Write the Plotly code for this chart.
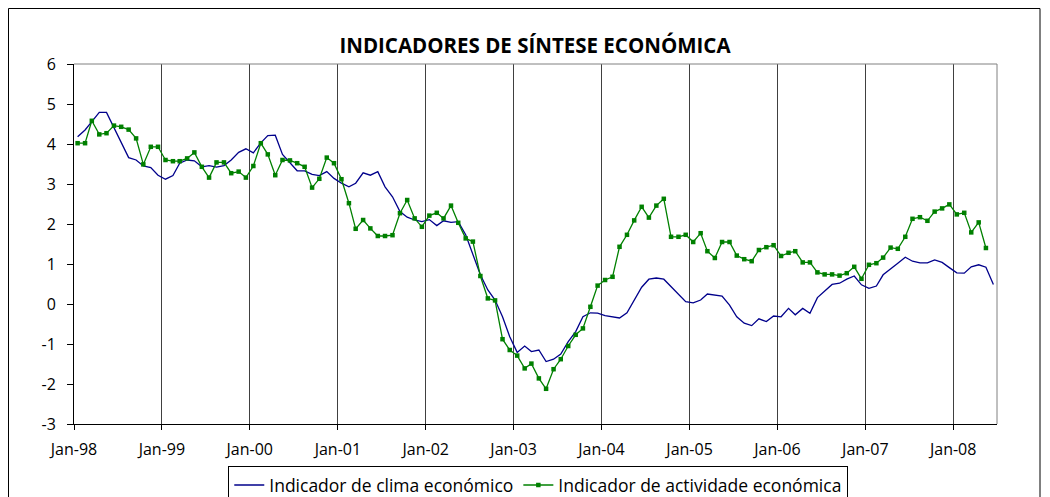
import pandas as pd
import plotly.graph_objects as go

# Monthly observations, Jan-98 onwards
start_month = "1998-01-01"
tick_years = list(range(1998, 2009))
tick_labels = ["Jan-98", "Jan-99", "Jan-00", "Jan-01", "Jan-02", "Jan-03",
               "Jan-04", "Jan-05", "Jan-06", "Jan-07", "Jan-08"]
y_ticks = [-3, -2, -1, 0, 1, 2, 3, 4, 5, 6]
y_tick_labels = ["-3", "-2", "-1", "0", "1", "2", "3", "4", "5", "6"]

clima_1998 = [4.18, 4.35, 4.56, 4.79, 4.79, 4.40, 4.04, 3.66, 3.60, 3.45, 3.41, 3.22]
clima_1999 = [3.12, 3.21, 3.52, 3.60, 3.58, 3.43, 3.46, 3.42, 3.46, 3.60, 3.79, 3.88]
clima_2000 = [3.78, 4.03, 4.21, 4.22, 3.74, 3.53, 3.33, 3.33, 3.24, 3.21, 3.31, 3.14]
clima_2001 = [3.02, 2.93, 3.02, 3.28, 3.22, 3.31, 2.93, 2.68, 2.31, 2.17, 2.10, 2.06]
clima_2002 = [2.11, 1.96, 2.08, 2.04, 2.06, 1.73, 1.23, 0.73, 0.35, 0.10, -0.32, -0.82]
clima_2003 = [-1.21, -1.05, -1.19, -1.15, -1.44, -1.38, -1.25, -0.94, -0.69, -0.32, -0.22, -0.23]
clima_2004 = [-0.29, -0.32, -0.35, -0.22, 0.10, 0.42, 0.62, 0.65, 0.62, 0.43, 0.24, 0.06]
clima_2005 = [0.03, 0.10, 0.25, 0.22, 0.20, -0.03, -0.32, -0.48, -0.54, -0.37, -0.44, -0.30]
clima_2006 = [-0.32, -0.11, -0.27, -0.11, -0.23, 0.16, 0.32, 0.49, 0.52, 0.62, 0.70, 0.48]
clima_2007 = [0.39, 0.45, 0.73, 0.87, 1.02, 1.17, 1.07, 1.03, 1.03, 1.10, 1.04, 0.91]
clima_2008 = [0.78, 0.77, 0.93, 0.98, 0.92, 0.49]

activ_1998 = [4.02, 4.02, 4.58, 4.24, 4.27, 4.46, 4.43, 4.36, 4.14, 3.49, 3.93, 3.93]
activ_1999 = [3.60, 3.57, 3.57, 3.64, 3.79, 3.43, 3.16, 3.54, 3.54, 3.27, 3.31, 3.16]
activ_2000 = [3.45, 4.02, 3.74, 3.22, 3.60, 3.59, 3.52, 3.43, 2.91, 3.13, 3.66, 3.52]
activ_2001 = [3.12, 2.52, 1.88, 2.10, 1.89, 1.70, 1.70, 1.72, 2.27, 2.60, 2.14, 1.93]
activ_2002 = [2.21, 2.28, 2.14, 2.46, 2.03, 1.64, 1.56, 0.70, 0.14, 0.09, -0.88, -1.15]
activ_2003 = [-1.29, -1.61, -1.49, -1.86, -2.12, -1.63, -1.38, -1.05, -0.77, -0.61, -0.07, 0.46]
activ_2004 = [0.60, 0.68, 1.43, 1.73, 2.09, 2.43, 2.16, 2.46, 2.63, 1.68, 1.68, 1.73]
activ_2005 = [1.55, 1.77, 1.32, 1.15, 1.55, 1.55, 1.21, 1.12, 1.07, 1.35, 1.42, 1.47]
activ_2006 = [1.20, 1.28, 1.32, 1.04, 1.04, 0.79, 0.74, 0.74, 0.71, 0.77, 0.93, 0.63]
activ_2007 = [0.98, 1.02, 1.16, 1.41, 1.38, 1.68, 2.13, 2.17, 2.08, 2.31, 2.39, 2.49]
activ_2008 = [2.24, 2.28, 1.79, 2.04, 1.40]

clima = (clima_1998 + clima_1999 + clima_2000 + clima_2001 + clima_2002 + clima_2003
         + clima_2004 + clima_2005 + clima_2006 + clima_2007 + clima_2008)
activ = (activ_1998 + activ_1999 + activ_2000 + activ_2001 + activ_2002 + activ_2003
         + activ_2004 + activ_2005 + activ_2006 + activ_2007 + activ_2008)

months = pd.date_range(start_month, periods=len(clima), freq="MS") + pd.Timedelta(days=15)
x_clima = list(months)
x_activ = list(months[:len(activ)])

FONT = "Open Sans"

fig = go.Figure()
fig.add_trace(go.Scatter(
    x=x_clima, y=clima, mode="lines", name="Indicador de clima económico",
    line=dict(color="#00008B", width=1.3),
))
fig.add_trace(go.Scatter(
    x=x_activ, y=activ, mode="lines+markers", name="Indicador de actividade económica",
    line=dict(color="#008000", width=1.3),
    marker=dict(symbol="square", size=4.5, color="#008000"),
))

tickvals = [pd.Timestamp(f"{y}-01-01") for y in tick_years]

# page body adds an 8px offset, so the figure is sized to the remaining area
W, H = 1042, 489
L, R, T, B = 66, 53, 56, 73
PW, PH = W - L - R, H - T - B

fig.update_layout(
    width=W, height=H,
    margin=dict(l=L, r=R, t=T, b=B, autoexpand=False),
    paper_bgcolor="white", plot_bgcolor="white",
    font=dict(family=FONT, size=16, color="black"),
    title=dict(text="<b>INDICADORES DE SÍNTESE ECONÓMICA</b>",
               x=527 / W, xanchor="center", y=1 - 38 / H, yanchor="middle",
               font=dict(family=FONT, size=20.5, color="black")),
    showlegend=True,
    legend=dict(orientation="h", x=0.503, xanchor="center", y=-0.117, yanchor="top",
                bordercolor="black", borderwidth=1, bgcolor="white",
                font=dict(family=FONT, size=17.5), itemwidth=30,
                tracegroupgap=0),
    xaxis=dict(
        type="date",
        range=[pd.Timestamp("1998-01-01"), pd.Timestamp("2008-07-01")],
        tickvals=tickvals, ticktext=tick_labels,
        ticks="outside", ticklen=5, tickcolor="black",
        showgrid=True, gridcolor="#404040", gridwidth=1,
        showline=True, linecolor="black", linewidth=1, mirror=False,
        zeroline=False, tickfont=dict(size=16), ticklabelstandoff=6,
    ),
    yaxis=dict(
        range=[-3, 6], tickvals=y_ticks, ticktext=y_tick_labels,
        ticks="outside", ticklen=6, tickcolor="black",
        showgrid=False, zeroline=False,
        showline=True, linecolor="black", linewidth=1,
        tickfont=dict(size=16), ticklabelstandoff=8,
    ),
    shapes=[
        # plot area border (top and right)
        dict(type="line", xref="paper", yref="paper", x0=0, x1=1, y0=1, y1=1,
             line=dict(color="#808080", width=1)),
        dict(type="line", xref="paper", yref="paper", x0=1, x1=1, y0=0, y1=1,
             line=dict(color="#808080", width=1)),
        # chart area border
        dict(type="rect", xref="paper", yref="paper",
             x0=(0.5 - L) / PW, x1=(1032 - L) / PW,
             y0=(PH + T - 520) / PH, y1=(PH + T - 0.5) / PH,
             line=dict(color="black", width=1), fillcolor="rgba(0,0,0,0)", layer="below"),
    ],
)

fig.write_html("out.html")
